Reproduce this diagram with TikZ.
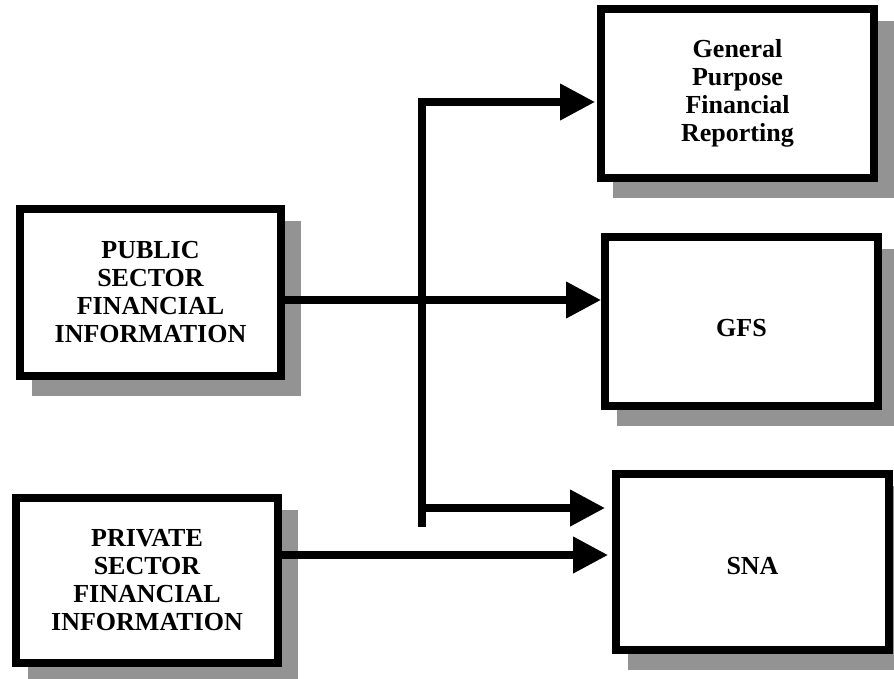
\documentclass[tikz,border=0pt]{standalone}
\usepackage{fontspec}
\setmainfont{Liberation Serif}
\usetikzlibrary{arrows.meta, backgrounds}
\definecolor{shadowgray}{RGB}{147,147,147}
\tikzset{
  infobox/.style={draw, line width=8pt, fill=white, align=center, inner sep=0pt,
    font=\fontsize{26pt}{28pt}\selectfont\bfseries},
  flow/.style={line width=7.5pt, -{Triangle[length=35pt, width=35pt]}}
}

\begin{document}
\begin{tikzpicture}[x=1pt, y=-1pt]
    \useasboundingbox (0,0) rectangle (894,678);

    % Draw the boxes
    \node[infobox, minimum width=261pt, minimum height=167pt] (pub) at (150.5,292.5)
        {PUBLIC\\SECTOR\\FINANCIAL\\INFORMATION};
    \node[infobox, minimum width=262pt, minimum height=165pt] (priv) at (147,580.5)
        {PRIVATE\\SECTOR\\FINANCIAL\\INFORMATION};
    \node[infobox, minimum width=273pt, minimum height=169pt] (gpfr) at (737.5,93.5)
        {General\\Purpose\\Financial\\Reporting};
    \node[infobox, minimum width=273pt, minimum height=169pt, text height=30pt] (gfs) at (741.5,321.5) {GFS};
    \node[infobox, minimum width=273pt, minimum height=176pt, text height=26pt] (sna) at (752.5,562) {SNA};

    % Shadows behind the boxes
    \begin{scope}[on background layer]
        \foreach \b in {pub,priv,gpfr,gfs,sna}
            \fill[shadowgray] ([shift={(16,16)}]\b.north west) rectangle ([shift={(16,16)}]\b.south east);
    \end{scope}

    % Points on the connectors
    \coordinate (cross) at (422,300);
    \coordinate (spine top) at (422,102);
    \coordinate (spine bottom) at (422,527);
    \coordinate (sna in) at (422,508);
    \coordinate (priv out) at (282,555);

    % Draw the arrows
    \draw[flow] (pub.east |- cross) -- (gfs.west |- cross);
    \draw[flow] (spine bottom) -- (spine top) -- ([xshift=-2pt]gpfr.west |- spine top);
    \draw[flow] (sna in) -- ([xshift=-7pt]sna.west |- sna in);
    \draw[flow] (priv.east |- priv out) -- ([xshift=-4pt]sna.west |- priv out);
\end{tikzpicture}
\end{document}
